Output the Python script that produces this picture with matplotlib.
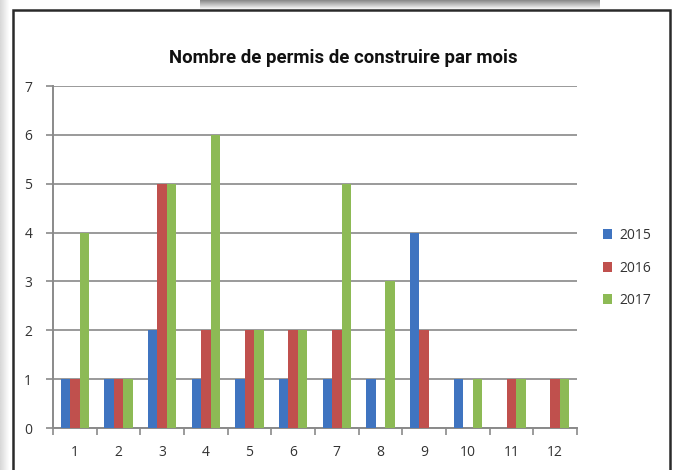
import matplotlib
matplotlib.use("Agg")
import matplotlib.pyplot as plt
import numpy as np
from matplotlib.patches import Rectangle

months = ["1", "2", "3", "4", "5", "6", "7", "8", "9", "10", "11", "12"]
years = ["2015", "2016", "2017"]
v2015 = [1, 1, 2, 1, 1, 1, 1, 1, 4, 1, 0, 0]
v2016 = [1, 1, 5, 2, 2, 2, 2, 0, 2, 0, 1, 1]
v2017 = [4, 1, 5, 6, 2, 2, 5, 3, 0, 1, 1, 1]
colors = ["#3F74C0", "#C0504D", "#8DBA55"]

W, H = 678, 470
fig = plt.figure(figsize=(W / 100, H / 100), dpi=100)
fig.patch.set_facecolor("white")

# decorative frame layer
deco = fig.add_axes([0, 0, 1, 1], zorder=0)
deco.set_xlim(0, W)
deco.set_ylim(H, 0)
deco.axis("off")
grad = np.linspace(0.55, 1.0, 10).reshape(-1, 1)
deco.imshow(np.tile(grad, (1, 50)), extent=[200, 600, 10, 0], cmap="gray",
            vmin=0, vmax=1, aspect="auto", interpolation="bilinear", zorder=0)
deco.imshow(np.tile(np.linspace(0.85, 1.0, 8).reshape(1, -1), (10, 1)),
            extent=[0, 10, H, 0], cmap="gray", vmin=0, vmax=1, aspect="auto",
            interpolation="bilinear", zorder=0)
deco.add_patch(Rectangle((13, 10), 657, 470, facecolor="white",
                         edgecolor="#2a2a2a", lw=1.8, zorder=1))
deco.set_xlim(0, W)
deco.set_ylim(H, 0)

ax = fig.add_axes([53 / W, (H - 428) / H, (577 - 53) / W, 342 / H], zorder=2)
ax.set_facecolor("none")
x = np.arange(1, len(months) + 1)
bw = 0.215
for i, (vals, c, lab) in enumerate(zip([v2015, v2016, v2017], colors, years)):
    ax.bar(x + (i - 1) * bw, vals, width=bw, color=c, label=lab, zorder=3)

ax.set_xlim(0.5, 12.5)
ax.set_ylim(0, 7)
ax.set_yticks(range(0, 8))
ax.set_xticks(x)
ax.set_xticklabels(months)
ax.set_xticks(np.arange(0.5, 13, 1), minor=True)
ax.grid(axis="y", color="#9a9a9a", lw=1.4, zorder=1)
for s in ["top", "right"]:
    ax.spines[s].set_visible(False)
for s in ["left", "bottom"]:
    ax.spines[s].set_color("#8a8a8a")
    ax.spines[s].set_linewidth(1.4)
ax.tick_params(axis="x", which="major", length=0, pad=12, labelsize=10,
               labelcolor="#333333")
ax.tick_params(axis="x", which="minor", length=5, color="#8a8a8a", width=1.2)
ax.tick_params(axis="y", length=5, color="#8a8a8a", width=1.2, pad=10,
               labelsize=10, labelcolor="#333333")
for t in ax.get_xticklabels() + ax.get_yticklabels():
    t.set_family(["Open Sans", "DejaVu Sans"])

fig.text(0.506, (H - 58) / H, "Nombre de permis de construire par mois",
         ha="center", va="center", fontsize=13.4, fontweight="bold",
         family=["Roboto", "DejaVu Sans"], color="#111111")

handles, labels = ax.get_legend_handles_labels()
leg = fig.legend(handles, labels, loc="center left",
                 bbox_to_anchor=(590 / W, (H - 268) / H), frameon=False,
                 handlelength=0.7, handleheight=0.7, handletextpad=0.5,
                 labelspacing=1.25, prop={"family": ["Open Sans", "DejaVu Sans"], "size": 10})
for t in leg.get_texts():
    t.set_color("#333333")

fig.savefig("out.png", dpi=100)
